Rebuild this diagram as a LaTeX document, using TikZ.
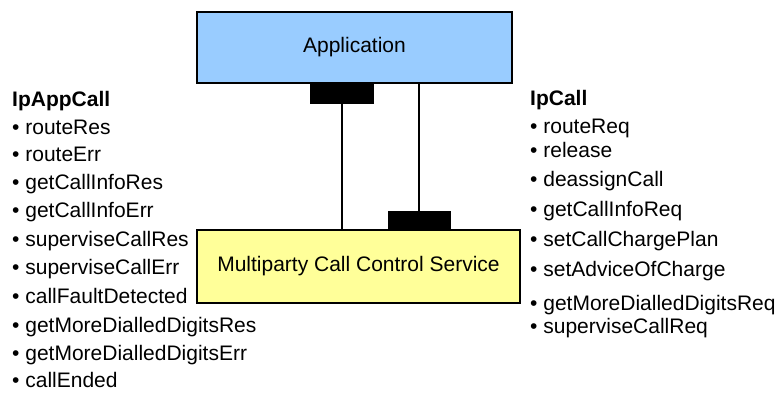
\documentclass[tikz,border=0pt]{standalone}
\usepackage{fontspec}
\setmainfont{Liberation Sans}
\definecolor{appblue}{RGB}{153,204,255}
\definecolor{svcyellow}{RGB}{255,255,153}
\begin{document}
\begin{tikzpicture}[x=1pt,y=-1pt,
  box/.style={draw=black,line width=1.4pt,inner sep=0pt,
    font=\fontsize{21}{25}\selectfont},
  socket/.style={fill=black,draw=none,inner sep=0pt},
  link/.style={line width=1.2pt},
  title/.style={anchor=base west,inner sep=0pt,
    font=\fontsize{21}{25}\selectfont\bfseries},
  item/.style={anchor=base west,inner sep=0pt,
    font=\fontsize{21}{25}\selectfont}]
\useasboundingbox (0,0) rectangle (784,392);

% components
\node[box,fill=appblue,minimum width=315pt,minimum height=71pt]
  (app) at (354.5,47.5) {Application};
\node[box,fill=svcyellow,minimum width=323pt,minimum height=73pt]
  (svc) at (358.5,266.5) {Multiparty Call Control Service};

% interface sockets
\node[socket,minimum width=64pt,minimum height=21pt] (appsock) at (342,93.5) {};
\node[socket,minimum width=63pt,minimum height=19pt] (svcsock) at (419,220.5) {};

% connectors
\draw[link] (appsock.south) -- (appsock.south |- svc.north);
\draw[link] (svcsock.north) -- (svcsock.north |- app.south);

% IpAppCall interface
\node[title] (lt) at (12,106) {IpAppCall};
\node[item] (l1) at (12,134) {• routeRes};
\node[item] (l2) at (12,161) {• routeErr};
\node[item] (l3) at (12,189) {• getCallInfoRes};
\node[item] (l4) at (12,217) {• getCallInfoErr};
\node[item] (l5) at (12,246) {• superviseCallRes};
\node[item] (l6) at (12,274) {• superviseCallErr};
\node[item] (l7) at (12,303) {• callFaultDetected};
\node[item] (l8) at (12,332) {• getMoreDialledDigitsRes};
\node[item] (l9) at (12,360) {• getMoreDialledDigitsErr};
\node[item] (l10) at (12,387) {• callEnded};

% IpCall interface
\node[title] (rt) at (530,105) {IpCall};
\node[item] (r1) at (530,133) {• routeReq};
\node[item] (r2) at (530,157) {• release};
\node[item] (r3) at (530,186) {• deassignCall};
\node[item] (r4) at (530,216) {• getCallInfoReq};
\node[item] (r5) at (530,246) {• setCallChargePlan};
\node[item] (r6) at (530,276) {• setAdviceOfCharge};
\node[item] (r7) at (530,310) {• getMoreDialledDigitsReq};
\node[item] (r8) at (530,333) {• superviseCallReq};
\end{tikzpicture}
\end{document}
